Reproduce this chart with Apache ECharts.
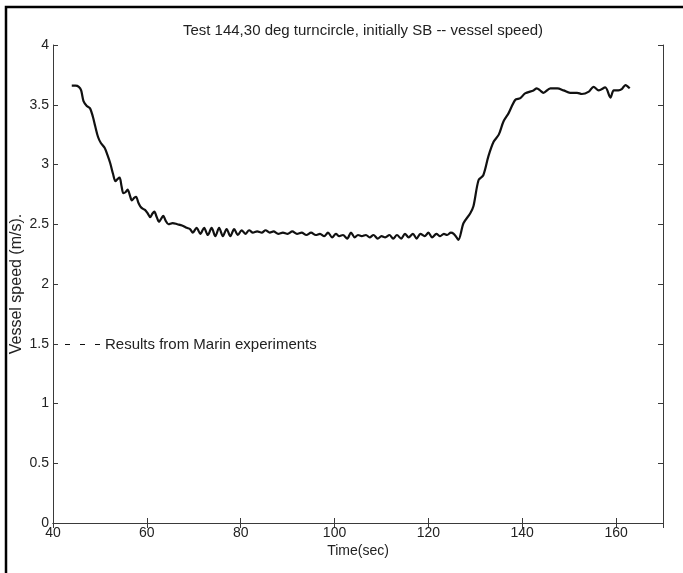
<!DOCTYPE html>
<html>
<head>
<meta charset="utf-8">
<script src="https://cdn.jsdelivr.net/npm/echarts@6/dist/echarts.min.js"></script>
<style>html,body{margin:0;padding:0;background:#fff}#c{width:683px;height:573px}</style>
</head>
<body>
<div id="c"></div>
<script>
var titleText = 'Test 144,30 deg turncircle, initially SB -- vessel speed)';
var xName = 'Time(sec)';
var yName = 'Vessel speed (m/s).';
var legendName = 'Results from Marin experiments';
var xTicks = [40, 60, 80, 100, 120, 140, 160];
var yTicks = [0, 0.5, 1, 1.5, 2, 2.5, 3, 3.5, 4];

var timeSec = [
44.0,44.8,45.5,46.0,46.5,47.2,47.9,48.5,49.0,49.6,50.2,51.0,51.6,52.2,52.8,53.3,53.8,54.2,54.6,55.0,
55.5,55.9,56.4,56.8,57.3,57.7,58.2,58.6,59.1,59.6,60.2,60.7,61.2,61.6,62.1,62.6,63.1,63.5,64.0,64.6,
65.5,66.5,67.5,68.5,69.2,69.8,70.6,71.4,72.2,73.0,73.8,74.6,75.4,76.2,77.0,77.8,78.6,79.4,80.2,81.0,
81.8,82.6,83.5,84.5,85.3,86.2,87.0,88.0,89.0,90.0,91.0,92.0,93.0,94.0,95.0,96.0,96.9,97.8,98.6,99.5,
100.3,101.0,101.8,102.7,103.5,104.3,105.0,105.8,106.7,107.5,108.3,109.2,110.0,110.8,111.7,112.5,113.3,114.2,115.0,115.8,
116.7,117.5,118.3,119.2,120.0,120.8,121.7,122.5,123.3,124.0,124.8,125.4,126.0,126.4,127.5,128.9,129.6,130.7,131.7,132.8,
133.9,135.0,136.0,137.1,138.5,139.6,140.6,142.4,143.1,143.8,144.5,146.0,147.5,148.8,150.2,151.7,152.7,154.2,155.2,156.3,
157.7,158.8,159.5,160.5,161.2,162.0,162.9
];
var speed = [
3.66,3.66,3.65,3.62,3.53,3.49,3.47,3.40,3.32,3.23,3.18,3.14,3.08,3.01,2.92,2.86,2.88,2.89,2.82,2.76,
2.77,2.79,2.74,2.70,2.72,2.73,2.68,2.65,2.63,2.62,2.59,2.56,2.59,2.605,2.56,2.52,2.55,2.57,2.53,2.50,
2.51,2.50,2.49,2.47,2.46,2.43,2.47,2.42,2.47,2.41,2.47,2.40,2.47,2.40,2.46,2.40,2.46,2.41,2.45,2.42,
2.45,2.43,2.44,2.43,2.45,2.43,2.44,2.42,2.43,2.42,2.44,2.42,2.43,2.41,2.43,2.41,2.42,2.40,2.43,2.39,
2.42,2.40,2.41,2.38,2.43,2.39,2.41,2.40,2.41,2.39,2.41,2.38,2.40,2.39,2.41,2.38,2.41,2.38,2.42,2.39,
2.42,2.38,2.42,2.40,2.43,2.39,2.42,2.40,2.42,2.41,2.43,2.42,2.39,2.37,2.51,2.59,2.65,2.87,2.91,3.07,
3.19,3.25,3.36,3.43,3.54,3.555,3.595,3.62,3.637,3.62,3.60,3.637,3.637,3.62,3.60,3.60,3.59,3.61,3.65,3.62,
3.645,3.56,3.62,3.62,3.63,3.665,3.637
];

var lineData = timeSec.map(function (t, i) { return [t, speed[i]]; });

var FONT = 'Liberation Sans, Arial, sans-serif';
var TXT = '#222';
var AX = '#3a3a3a';

var chart = echarts.init(document.getElementById('c'), null, {renderer: 'canvas'});
chart.setOption({
  backgroundColor: '#fff',
  animation: false,
  title: {
    text: titleText, left: 358, top: 18, textAlign: 'center',
    textStyle: {fontFamily: FONT, fontSize: 15, fontWeight: 'normal', color: TXT}
  },
  legend: {
    data: [legendName], left: 60, top: 332, itemWidth: 35, itemHeight: 1.3,
    icon: 'path://M0,0H5V1H0Z M15,0H20V1H15Z M30,0H35V1H30Z',
    textStyle: {fontFamily: FONT, fontSize: 15, color: TXT},
    itemStyle: {color: '#111'},
    selectedMode: false
  },
  grid: {left: 53, right: 20, top: 45, bottom: 50, containLabel: false, outerBoundsMode: 'none'},
  graphic: [{
    type: 'rect', shape: {x: 6, y: 7, width: 720, height: 620},
    style: {fill: 'none', stroke: '#000', lineWidth: 2.5}, silent: true
  }],
  xAxis: [{
    type: 'value', min: 40, max: 170, interval: 20, position: 'bottom',
    name: xName, nameLocation: 'middle', nameGap: 21, nameMoveOverlap: false,
    nameTextStyle: {fontFamily: FONT, fontSize: 14, color: TXT},
    axisLine: {show: true, lineStyle: {color: AX, width: 1}},
    axisTick: {show: true, inside: true, length: 5, lineStyle: {color: AX}},
    axisLabel: {fontFamily: FONT, fontSize: 14, color: TXT, margin: 3, showMaxLabel: false,
      formatter: function (v) { return xTicks.indexOf(v) >= 0 ? String(v) : ''; }},
    splitLine: {show: false}
  }, {
    type: 'value', min: 40, max: 170, interval: 20, position: 'top',
    axisLine: {show: true, lineStyle: {color: AX, width: 1}},
    axisTick: {show: true, inside: true, length: 5, lineStyle: {color: AX}},
    axisLabel: {show: false}, splitLine: {show: false}
  }],
  yAxis: [{
    type: 'value', min: 0, max: 4, interval: 0.5, position: 'left',
    name: yName, nameLocation: 'middle', nameGap: 28, nameRotate: 90, nameMoveOverlap: false,
    nameTextStyle: {fontFamily: FONT, fontSize: 16, color: TXT},
    axisLine: {show: true, lineStyle: {color: AX, width: 1}},
    axisTick: {show: true, inside: true, length: 5, lineStyle: {color: AX}},
    axisLabel: {fontFamily: FONT, fontSize: 14, color: TXT, margin: 4,
      formatter: function (v) { return yTicks.indexOf(v) >= 0 ? String(v) : ''; }},
    splitLine: {show: false}
  }, {
    type: 'value', min: 0, max: 4, interval: 0.5, position: 'right',
    axisLine: {show: true, lineStyle: {color: AX, width: 1}},
    axisTick: {show: true, inside: true, length: 5, lineStyle: {color: AX}},
    axisLabel: {show: false}, splitLine: {show: false}
  }],
  series: [{
    name: 'Vessel speed', type: 'line', data: lineData, showSymbol: false, symbol: 'none',
    smooth: 0.3, lineStyle: {color: '#111', width: 2.2}, xAxisIndex: 0, yAxisIndex: 0, z: 3
  }, {
    name: legendName, type: 'line', data: [], symbol: 'none',
    lineStyle: {color: '#111', width: 1, type: [5, 8]}, itemStyle: {color: '#111'}
  }]
});
</script>
</body>
</html>
